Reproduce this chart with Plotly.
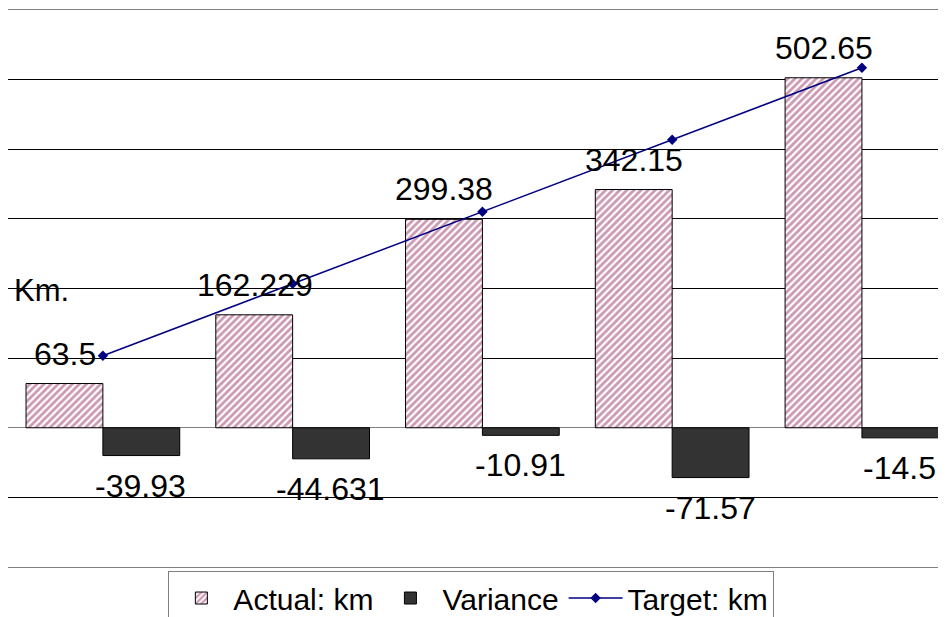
import plotly.graph_objects as go

categories = ["1", "2", "3", "4", "5"]
actual = [63.5, 162.229, 299.38, 342.15, 502.65]
variance = [-39.93, -44.631, -10.91, -71.57, -14.5]
target = [103.43, 206.86, 310.29, 413.72, 517.15]
actual_labels = ["63.5", "162.229", "299.38", "342.15", "502.65"]
variance_labels = ["-39.93", "-44.631", "-10.91", "-71.57", "-14.5"]

FONT = "Liberation Sans, Arial, sans-serif"

fig = go.Figure()
fig.add_trace(go.Bar(
    x=categories, y=actual, name="Actual: km",
    marker=dict(color="white", line=dict(color="black", width=1),
                pattern=dict(shape="/", fgcolor="#993366", bgcolor="white",
                             size=5, solidity=0.55)),
))
fig.add_trace(go.Bar(
    x=categories, y=variance, name="Variance",
    marker=dict(color="#333333", line=dict(color="black", width=1)),
))
fig.add_trace(go.Scatter(
    x=categories, y=target, name="Target: km", mode="lines+markers",
    line=dict(color="#000080", width=1.5),
    marker=dict(symbol="diamond", size=8, color="#000080"),
))

annotations = []
for i, (v, t) in enumerate(zip(actual, actual_labels)):
    annotations.append(dict(x=i, y=v, text=t, showarrow=False, xshift=-38, yshift=30,
                            font=dict(size=32, color="black", family=FONT)))
for i, (v, t) in enumerate(zip(variance, variance_labels)):
    annotations.append(dict(x=i, y=v, text=t, showarrow=False, xshift=38, yshift=-30,
                            font=dict(size=32, color="black", family=FONT)))
annotations.append(dict(xref="paper", yref="paper", x=0.004, y=0.497, text="Km.",
                        xanchor="left", yanchor="middle", showarrow=False,
                        font=dict(size=31, color="black", family=FONT)))

fig.update_layout(
    width=938, height=609,
    margin=dict(l=0, r=0, t=2, b=50),
    paper_bgcolor="white", plot_bgcolor="white",
    barmode="group", bargap=0.19, bargroupgap=0,
    font=dict(family=FONT, color="black"),
    showlegend=True,
    legend=dict(orientation="h", xref="container", yref="container",
                x=0.494, xanchor="center", y=0.0755, yanchor="top",
                bordercolor="#808080", borderwidth=1, bgcolor="white",
                font=dict(size=30, family=FONT), itemwidth=54, tracegroupgap=0),
    annotations=annotations,
    xaxis=dict(showticklabels=False, showgrid=False, zeroline=False,
               showline=True, linecolor="#808080", mirror=True, ticks="",
               range=[-0.5, 4.443]),
    yaxis=dict(range=[-200, 600], dtick=100, showticklabels=False, ticks="",
               showgrid=True, gridcolor="#000000", gridwidth=1,
               zeroline=True, zerolinecolor="#808080", zerolinewidth=1,
               showline=True, linecolor="#808080", mirror=False),
)

fig.write_html("out.html")
